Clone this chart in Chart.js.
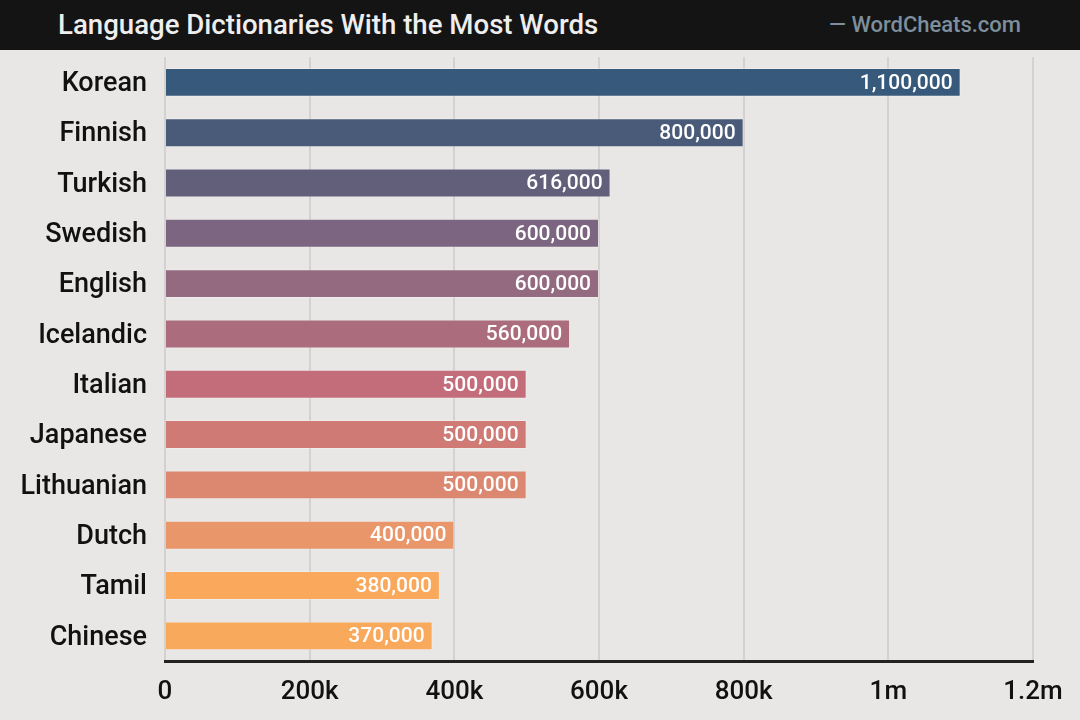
<!DOCTYPE html>
<html>
<head>
<meta charset="utf-8">
<script src="https://cdn.jsdelivr.net/npm/chart.js@4/dist/chart.umd.min.js"></script>
<style>
  html, body { margin:0; padding:0; background:#e8e7e5; width:1080px; height:720px; overflow:hidden; }
  #header { position:absolute; left:0; top:0; width:1080px; height:50px; background:#141414; font-family:Roboto, sans-serif; z-index:2; }
  #title { position:absolute; left:58px; top:8px; font-size:27.6px; font-weight:500; color:#eeeeee; }
  #source { position:absolute; right:59px; top:12px; font-size:22px; font-weight:500; color:#7d8f9c; }
  #wrap { position:absolute; left:0; top:23px; width:1080px; height:697px; z-index:1; }
</style>
</head>
<body>
<div id="header"><div id="title">Language Dictionaries With the Most Words</div><div id="source">— WordCheats.com</div></div>
<div id="wrap"><canvas id="c"></canvas></div>
<script>
const languages = ["Korean","Finnish","Turkish","Swedish","English","Icelandic","Italian","Japanese","Lithuanian","Dutch","Tamil","Chinese"];
const words = [1100000,800000,616000,600000,600000,560000,500000,500000,500000,400000,380000,370000];
const barColors = ["#375a7c","#4a5b7a","#625f7b","#7b6580","#946a80","#ab6c7e","#c36d7b","#cf7a74","#dc8870","#e8966a","#f9a85c","#f9a95b"];
const tickLabels = {0:"0",200000:"200k",400000:"400k",600000:"600k",800000:"800k",1000000:"1m",1200000:"1.2m"};

const valueLabels = {
  id:'valueLabels',
  afterDatasetsDraw(chart){
    const ctx = chart.ctx;
    const meta = chart.getDatasetMeta(0);
    ctx.save();
    ctx.font = '500 21px Roboto';
    ctx.fillStyle = '#ffffff';
    ctx.textAlign = 'right';
    ctx.textBaseline = 'middle';
    meta.data.forEach((bar, i) => {
      ctx.fillText(words[i].toLocaleString('en-US'), bar.x - 8, bar.y + 1);
    });
    ctx.restore();
  }
};

new Chart(document.getElementById('c'), {
  type:'bar',
  data:{
    labels: languages,
    datasets:[{
      data: words,
      backgroundColor: barColors,
      borderColor: 'rgba(255,255,255,0.25)',
      borderWidth: 1,
      barPercentage: 0.575,
      categoryPercentage: 1.0
    }]
  },
  options:{
    indexAxis:'y',
    responsive:true,
    maintainAspectRatio:false,
    animation:false,
    layout:{ padding:{ top:7, right:47, left:0, bottom:0 } },
    plugins:{ legend:{display:false}, tooltip:{enabled:false} },
    scales:{
      x:{
        min:0, max:1200000,
        afterFit(scale){ scale.height = 59; },
        ticks:{ stepSize:200000, padding:16, color:'#111', font:{family:'Roboto', size:26, weight:'500'},
          callback:(v)=> tickLabels[v] },
        grid:{ color:'#d3d2d0', lineWidth:2, drawTicks:false },
        border:{ display:true, color:'#222', width:3 }
      },
      y:{
        afterFit(scale){ scale.width = 165; },
        ticks:{ padding:18, labelOffset:2, color:'#111', font:{family:'Roboto', size:27, weight:'500'} },
        grid:{ display:false, drawTicks:false },
        border:{ display:false }
      }
    }
  },
  plugins:[valueLabels]
});
</script>
</body>
</html>
